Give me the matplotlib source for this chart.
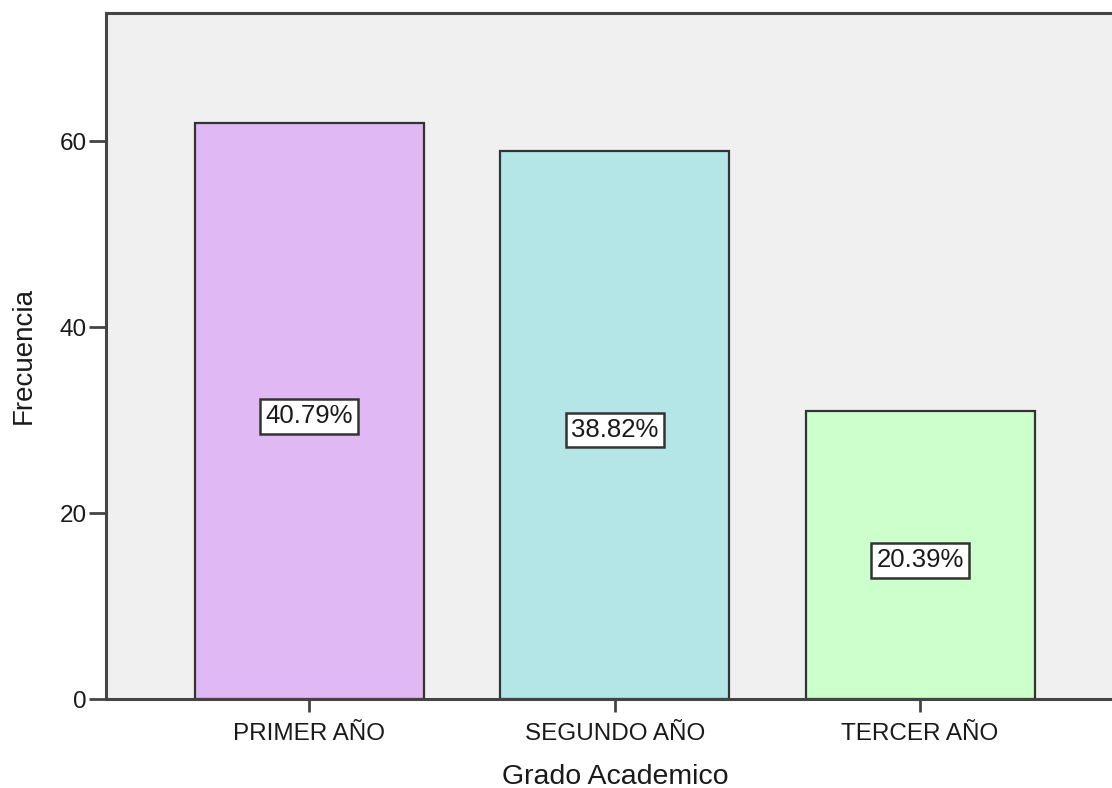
import matplotlib
matplotlib.use("Agg")
import matplotlib.pyplot as plt

categories = ["PRIMER AÑO", "SEGUNDO AÑO", "TERCER AÑO"]
frecuencias = [62, 59, 31]
porcentajes = ["40.79%", "38.82%", "20.39%"]
colores = ["#E0B8F4", "#B4E6E8", "#CCFFCC"]
yticks = [0, 20, 40, 60]

plt.rcParams["font.family"] = ["Liberation Sans", "DejaVu Sans"]

fig = plt.figure(figsize=(11.12, 7.88), dpi=100)
ax = fig.add_axes([106 / 1112, 89 / 788, (1124 - 106) / 1112, (699 - 13) / 788])
ax.set_facecolor("#F0F0F0")

x = list(range(len(categories)))
ax.bar(x, frecuencias, width=0.75, color=colores, edgecolor="#333333",
       linewidth=1.6, zorder=2)

# percentage label boxes centred on each bar, nudged slightly downward
for xi, f, p in zip(x, frecuencias, porcentajes):
    ax.annotate(p, xy=(xi, f / 2), xytext=(0, -4), textcoords="offset points",
                ha="center", va="center", fontsize=18.5, color="#1a1a1a",
                zorder=3,
                bbox=dict(boxstyle="square,pad=0.2", facecolor="white",
                          edgecolor="#333333", linewidth=1.8))

ax.set_xlim(-0.666, 2.668)
ax.set_ylim(0, 73.8)
ax.set_xticks(x)
ax.set_xticklabels(categories, fontsize=17.5, color="#1a1a1a")
ax.set_yticks(yticks)
ax.set_yticklabels([str(t) for t in yticks], fontsize=17.5, color="#1a1a1a")

ax.tick_params(axis="y", direction="out", length=12, width=2, color="#444444", pad=2)
ax.tick_params(axis="x", direction="out", length=9, width=2, color="#444444", pad=8)

for side in ["left", "top", "bottom"]:
    ax.spines[side].set_color("#444444")
    ax.spines[side].set_linewidth(2.2)
ax.spines["right"].set_visible(False)

ax.set_xlabel("Grado Academico", fontsize=20.5, color="#1a1a1a", labelpad=14)
ax.set_ylabel("Frecuencia", fontsize=20, color="#1a1a1a", labelpad=16)

fig.savefig("out.png", dpi=100, facecolor="white")
